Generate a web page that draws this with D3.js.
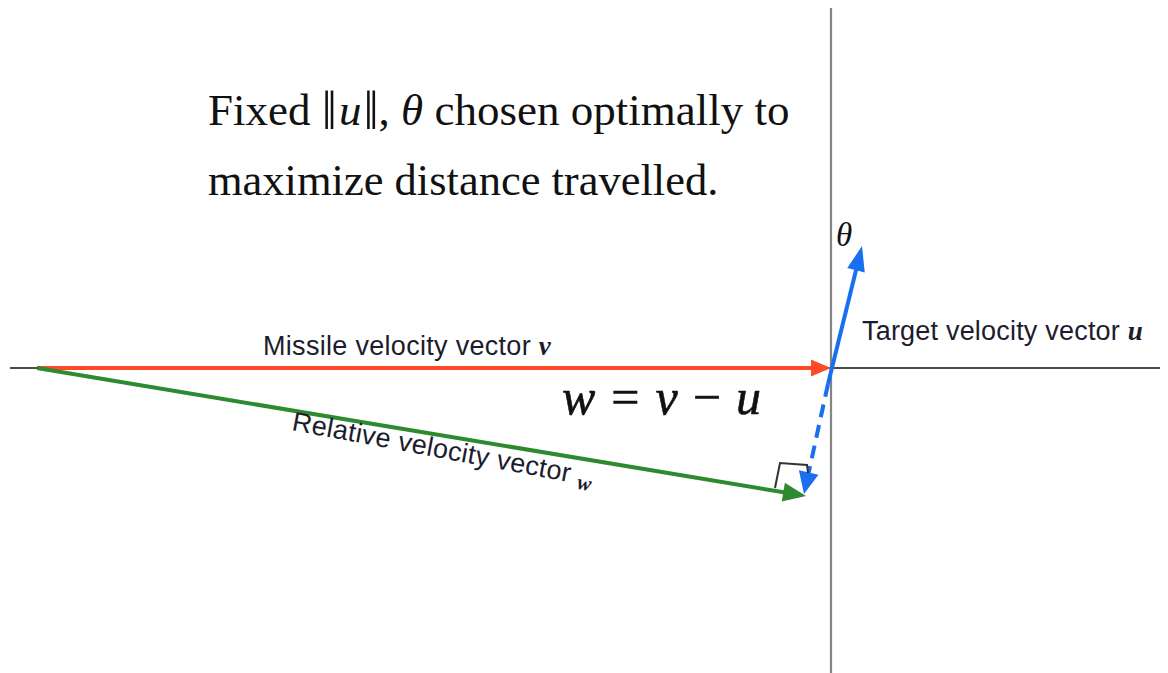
<!DOCTYPE html>
<html><head><meta charset="utf-8">
<script src="https://cdn.jsdelivr.net/npm/d3@7"></script>
<style>html,body{margin:0;padding:0;background:#fff;}svg{display:block;}</style>
</head><body>
<script>
// Diagram data (arbitrary units, origin at the axes crossing, y up)
const axisX = [-821, 329];
const axisY = [-305, 360];
const missileV = {from: [-794, 0], to: [0, 0]};
const relativeW = {from: [-794, 0], to: [-25, -128]};
const targetU = {from: [-3, -16], to: [31, 122]};
const negU = {from: [-3, -16], to: [-27, -126]};
const rightAngle = [[-56, -120], [-51, -95], [-24, -97], [-23, -105]];
const titleLines = ["maximize distance travelled."];

const W = 1168, H = 673;
const x = d3.scaleLinear().domain(axisX).range([10, 1160]);
const y = d3.scaleLinear().domain(axisY).range([673, 8]);

const svg = d3.select("body").append("svg").attr("width", W).attr("height", H);

// axes
svg.append("line").attr("x1", x(axisX[0])).attr("x2", x(axisX[1])).attr("y1", y(0)).attr("y2", y(0))
  .attr("stroke", "#111").attr("stroke-width", 1.6);
svg.append("line").attr("x1", x(0)).attr("x2", x(0)).attr("y1", y(axisY[0])).attr("y2", y(axisY[1]))
  .attr("stroke", "#858585").attr("stroke-width", 2.2);

function arrow(vec, color, opts) {
  const x1 = x(vec.from[0]), y1 = y(vec.from[1]), x2 = x(vec.to[0]), y2 = y(vec.to[1]);
  const dx = x2 - x1, dy = y2 - y1, len = Math.hypot(dx, dy);
  const ux = dx / len, uy = dy / len;
  const hl = opts.headLen, hw = opts.headW;
  const bx = x2 - ux * hl, by = y2 - uy * hl;
  svg.append("line").attr("x1", x1).attr("y1", y1).attr("x2", bx + ux * 2).attr("y2", by + uy * 2)
    .attr("stroke", color).attr("stroke-width", opts.width)
    .attr("stroke-dasharray", opts.dash || null);
  svg.append("path")
    .attr("d", `M${x2},${y2}L${bx - uy * hw},${by + ux * hw}L${bx + uy * hw},${by - ux * hw}Z`)
    .attr("fill", color);
}

arrow(missileV, "#fd4a26", {width: 4, headLen: 20, headW: 8.5});
arrow(relativeW, "#2d8a2f", {width: 4, headLen: 23, headW: 9.5});
arrow(negU, "#1a6ff0", {width: 4, headLen: 22, headW: 10, dash: "13,8"});
arrow(targetU, "#1a6ff0", {width: 4, headLen: 25, headW: 9});

svg.append("path")
  .attr("d", d3.line().x(d => x(d[0])).y(d => y(d[1]))(rightAngle))
  .attr("fill", "none").attr("stroke", "#333").attr("stroke-width", 2);

// Title text
const serif = "'Liberation Serif', 'Times New Roman', serif";
const t1 = svg.append("text").attr("x", 208).attr("y", 125).attr("font-family", serif)
  .attr("font-size", 45).attr("fill", "#111");
t1.append("tspan").text("Fixed ");
t1.append("tspan").attr("font-size", 54).attr("dy", 4).text("\u2016");
t1.append("tspan").attr("font-style", "italic").attr("dy", -4).attr("dx", 2).text("u");
t1.append("tspan").attr("font-size", 54).attr("dy", 4).attr("dx", 2).text("\u2016");
t1.append("tspan").attr("dy", -4).text(", ");
t1.append("tspan").attr("font-style", "italic").text("\u03B8");
t1.append("tspan").text(" chosen optimally to");
svg.selectAll("text.l2").data(titleLines).enter().append("text").attr("class", "l2")
  .attr("x", 208).attr("y", 195).attr("font-family", serif).attr("font-size", 44.5).attr("fill", "#111")
  .text(d => d);

// theta label
svg.append("text").attr("x", 836).attr("y", 246).attr("font-family", serif).attr("font-style", "italic")
  .attr("font-size", 33).attr("fill", "#111").text("\u03B8");

const sans = "'Liberation Sans', Arial, sans-serif";
const m = svg.append("text").attr("x", 263).attr("y", 355).attr("font-family", sans).attr("font-size", 27)
  .attr("letter-spacing", 0.3).attr("fill", "#1c1c2e");
m.append("tspan").text("Missile velocity vector ");
m.append("tspan").attr("font-family", serif).attr("font-style", "italic").attr("font-weight", "bold").text("v");

const tg = svg.append("text").attr("x", 862).attr("y", 340).attr("font-family", sans).attr("font-size", 27)
  .attr("letter-spacing", 0.2).attr("fill", "#1c1c2e");
tg.append("tspan").text("Target velocity vector ");
tg.append("tspan").attr("font-family", serif).attr("font-style", "italic").attr("font-weight", "bold").text("u");

// w = v - u
const eq = svg.append("text").attr("x", 562).attr("y", 414).attr("font-family", serif).attr("font-style", "italic")
  .attr("font-size", 50).attr("fill", "#111").attr("stroke", "#111").attr("stroke-width", 0.6);
eq.append("tspan").text("w");
eq.append("tspan").attr("dx", 16).attr("font-style", "normal").text("=");
eq.append("tspan").attr("dx", 16).text("v");
eq.append("tspan").attr("dx", 15).attr("font-style", "normal").text("\u2212");
eq.append("tspan").attr("dx", 15).text("u");

// relative label rotated
const rl = svg.append("text").attr("transform", "translate(291,430) rotate(10.6)")
  .attr("font-family", sans).attr("font-size", 27).attr("letter-spacing", 0.3).attr("fill", "#1c1c2e");
rl.append("tspan").text("Relative velocity vector ");
rl.append("tspan").attr("font-family", serif).attr("font-style", "italic").attr("font-weight", "bold")
  .attr("font-size", 21).attr("dy", 5).text("w");
</script>
</body></html>
